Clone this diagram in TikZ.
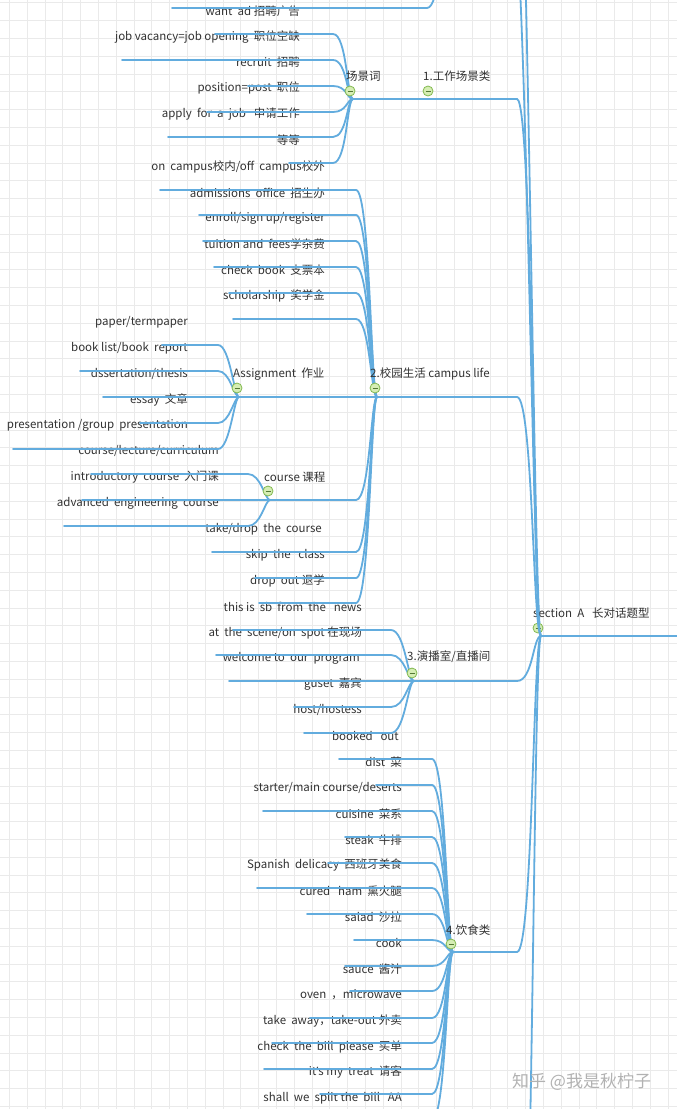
\documentclass[tikz,border=0pt]{standalone}
\usepackage{fontspec}
\setmainfont{Noto Sans CJK SC}
\newfontfamily\aposfont{Noto Sans}
\definecolor{branchblue}{RGB}{98,172,222}
\definecolor{txtgray}{RGB}{50,50,50}
\definecolor{foldfill}{RGB}{214,238,180}
\definecolor{folddraw}{RGB}{130,185,80}
\definecolor{gridgray}{RGB}{234,234,234}
\begin{document}
\begin{tikzpicture}[x=1pt, y=-1pt,
    branch/.style={draw=branchblue, line width=1.8pt, line cap=round},
    leaf/.style={anchor=east, inner sep=0pt, text=txtgray, font=\fontsize{11.5}{13}\selectfont},
    topic/.style={anchor=west, inner sep=0pt, text=txtgray, font=\fontsize{11.5}{13}\selectfont},
    fold/.style={circle, draw=folddraw, fill=foldfill, line width=0.8pt, inner sep=0pt, minimum size=10pt,
        path picture={\draw[folddraw!65!black, line width=0.8pt]
            ([xshift=-2.5pt]path picture bounding box.center) -- ([xshift=2.5pt]path picture bounding box.center);}},
    gridline/.style={draw=gridgray, line width=1pt}]
    \clip (0,0) rectangle (677,1109);
    \fill[white] (0,0) rectangle (677,1109);
    \foreach \i in {0,...,38} \draw[gridline] ({9.4+17.8*\i},0) -- ({9.4+17.8*\i},1109);
    \foreach \j in {0,...,62} \draw[gridline] (0,{2.8+17.8*\j}) -- (677,{2.8+17.8*\j});

    % hubs and bends
    \coordinate (root) at (541,636);
    \coordinate (hub0) at (446,-60);
    \coordinate (hub1) at (353,99);
    \coordinate (hub2) at (377,397);
    \coordinate (hubA) at (239,397);
    \coordinate (hubC) at (270,500);
    \coordinate (hub3) at (414,681);
    \coordinate (hub4) at (453,952);
    \coordinate (k0) at (427,0);
    \coordinate (k1) at (333,0);
    \coordinate (k2) at (356,0);
    \coordinate (kA) at (218,0);
    \coordinate (kC) at (248,0);
    \coordinate (k3) at (391,0);
    \coordinate (k4) at (432,0);
    \coordinate (kR) at (517,0);

    % root
    \coordinate (rootend) at (677,636);
    \draw[branch] (root) -- (rootend);
    \coordinate (cat0) at (510,-120);
    \coordinate (catm) at (505,-420);
    \coordinate (cat5) at (517,1400);
    \draw[branch] (cat0) .. controls +(16,0) and +(-8,0) .. (root);
    \draw[branch] (catm) .. controls +(22,0) and +(-8,0) .. (root);
    \draw[branch] (cat5) .. controls +(16,0) and +(-8,0) .. (root);
    \node[topic] (sec) at (533,613) {section~ A~~ 长对话题型};
    \node[fold] (f-root) at (538,628) {};

    % 1. work
    \draw[branch] (hub1) -- (hub1 -| kR) .. controls +(16,0) and +(-8,0) .. (root);
    \node[topic] (cat1) at (423,76) {1.工作场景类};
    \node[fold] (f-cat1) at (428,91) {};

    \node[leaf] (wantad) at (300,11) {want~ ad 招聘广告};
    \coordinate (wantad-l) at (172,8);
    \draw[branch] (wantad-l) -- (wantad-l -| k0) .. controls +(12,0) and +(-4,0) .. (hub0);

    \node[leaf] (vacancy) at (300,37) {job vacancy=job opening~ 职位空缺};
    \coordinate (vacancy-l) at (215,34);
    \draw[branch] (vacancy-l) -- (vacancy-l -| k1) .. controls +(14,0) and +(-6,0) .. (hub1);
    \node[leaf] (recruit) at (300,62) {recruit~ 招聘};
    \coordinate (recruit-l) at (122,60);
    \draw[branch] (recruit-l) -- (recruit-l -| k1) .. controls +(14,0) and +(-6,0) .. (hub1);
    \node[leaf] (position) at (300,88) {position=post~ 职位};
    \coordinate (position-l) at (248,86);
    \draw[branch] (position-l) -- (position-l -| k1) .. controls +(14,0) and +(-6,0) .. (hub1);
    \node[leaf] (apply) at (300,114) {apply~ for~ a~ job~~ 申请工作};
    \coordinate (apply-l) at (207,112);
    \draw[branch] (apply-l) -- (apply-l -| k1) .. controls +(14,0) and +(-6,0) .. (hub1);
    \node[leaf] (etc) at (300,140) {等等};
    \coordinate (etc-l) at (168,137);
    \draw[branch] (etc-l) -- (etc-l -| k1) .. controls +(14,0) and +(-6,0) .. (hub1);
    \node[leaf] (campus) at (325,167) {on~ campus校内/off~ campus校外};
    \coordinate (campus-l) at (289,163);
    \draw[branch] (campus-l) -- (campus-l -| k1) .. controls +(14,0) and +(-6,0) .. (hub1);
    \node[topic] (scene) at (346,76) {场景词};
    \node[fold] (f-scene) at (350,91) {};

    % 2. campus life
    \draw[branch] (hub2) -- (hub2 -| kR) .. controls +(16,0) and +(-8,0) .. (root);

    \node[leaf] (admit) at (325,193) {admissions~ office~ 招生办};
    \coordinate (admit-l) at (160,190);
    \draw[branch] (admit-l) -- (admit-l -| k2) .. controls +(14,0) and +(-6,0) .. (hub2);
    \node[leaf] (enroll) at (325,218) {enroll/sign up/register};
    \coordinate (enroll-l) at (199,215);
    \draw[branch] (enroll-l) -- (enroll-l -| k2) .. controls +(14,0) and +(-6,0) .. (hub2);
    \node[leaf] (tuition) at (325,244) {tuition and~ fees学杂费};
    \coordinate (tuition-l) at (203,241);
    \draw[branch] (tuition-l) -- (tuition-l -| k2) .. controls +(14,0) and +(-6,0) .. (hub2);
    \node[leaf] (cheque) at (325,270) {check~ book~ 支票本};
    \coordinate (cheque-l) at (214,267);
    \draw[branch] (cheque-l) -- (cheque-l -| k2) .. controls +(14,0) and +(-6,0) .. (hub2);
    \node[leaf] (scholar) at (325,296) {scholarship~ 奖学金};
    \coordinate (scholar-l) at (229,293);
    \draw[branch] (scholar-l) -- (scholar-l -| k2) .. controls +(14,0) and +(-6,0) .. (hub2);
    \coordinate (paper-l) at (233,319);
    \draw[branch] (paper-l) -- (paper-l -| k2) .. controls +(14,0) and +(-6,0) .. (hub2);

    \draw[branch] (hubA) -- (hub2);
    \node[leaf] (paper) at (188,322) {paper/termpaper};
    \node[leaf] (booklist) at (188,348) {book list/book~ report};
    \coordinate (booklist-l) at (162,345);
    \draw[branch] (booklist-l) -- (booklist-l -| kA) .. controls +(12,0) and +(-5,0) .. (hubA);
    \node[leaf] (thesis) at (188,374) {dssertation/thesis};
    \coordinate (thesis-l) at (80,371);
    \draw[branch] (thesis-l) -- (thesis-l -| kA) .. controls +(12,0) and +(-5,0) .. (hubA);
    \node[leaf] (essay) at (188,400) {essay~ 文章};
    \coordinate (essay-l) at (103,397);
    \draw[branch] (essay-l) -- (hubA);
    \node[leaf] (present) at (188,425) {presentation /group~ presentation};
    \coordinate (present-l) at (140,423);
    \draw[branch] (present-l) -- (present-l -| kA) .. controls +(12,0) and +(-5,0) .. (hubA);
    \node[leaf] (lecture) at (219,451) {course/lecture/curriculum};
    \coordinate (lecture-l) at (13,449);
    \draw[branch] (lecture-l) -- (lecture-l -| kA) .. controls +(12,0) and +(-5,0) .. (hubA);
    \node[topic] (assign) at (233,374) {Assignment~ 作业};
    \node[fold] (f-assign) at (237,388) {};

    \draw[branch] (hubC) -- (hubC -| k2) .. controls +(14,0) and +(-6,0) .. (hub2);
    \node[leaf] (intro) at (219,477) {introductory~ course~ 入门课};
    \coordinate (intro-l) at (91,474);
    \draw[branch] (intro-l) -- (intro-l -| kC) .. controls +(13,0) and +(-5,0) .. (hubC);
    \node[leaf] (advanced) at (219,503) {advanced~ engineering~ course};
    \coordinate (advanced-l) at (82,500);
    \draw[branch] (advanced-l) -- (hubC);
    \node[leaf] (takedrop) at (322,529) {take/drop~ the~ course};
    \coordinate (takedrop-l) at (64,526);
    \draw[branch] (takedrop-l) -- (takedrop-l -| kC) .. controls +(13,0) and +(-5,0) .. (hubC);
    \node[topic] (course) at (264,477) {course 课程};
    \node[fold] (f-course) at (268,491) {};

    \node[leaf] (skip) at (325,555) {skip~ the~~ class};
    \coordinate (skip-l) at (212,552);
    \draw[branch] (skip-l) -- (skip-l -| k2) .. controls +(14,0) and +(-6,0) .. (hub2);
    \node[leaf] (dropout) at (325,581) {drop~ out 退学};
    \coordinate (dropout-l) at (255,578);
    \draw[branch] (dropout-l) -- (dropout-l -| k2) .. controls +(14,0) and +(-6,0) .. (hub2);
    \node[leaf] (news) at (362,607) {this is~ sb~ from~ the~~ news};
    \coordinate (news-l) at (259,603);
    \draw[branch] (news-l) -- (news-l -| k2) .. controls +(14,0) and +(-6,0) .. (hub2);
    \node[topic] (cat2) at (370,374) {2.校园生活 campus life};
    \node[fold] (f-cat2) at (375,388) {};

    % 3. studio
    \draw[branch] (hub3) -- (hub3 -| kR) .. controls +(16,0) and +(-8,0) .. (root);
    \node[leaf] (spot) at (362,633) {at~ the~ scene/on~ spot 在现场};
    \coordinate (spot-l) at (233,630);
    \draw[branch] (spot-l) -- (spot-l -| k3) .. controls +(14,0) and +(-6,0) .. (hub3);
    \node[leaf] (welcome) at (360,658) {welcome to~ our~ program};
    \coordinate (welcome-l) at (216,655);
    \draw[branch] (welcome-l) -- (welcome-l -| k3) .. controls +(14,0) and +(-6,0) .. (hub3);
    \node[leaf] (guest) at (362,684) {guset~ 嘉宾};
    \coordinate (guest-l) at (229,681);
    \draw[branch] (guest-l) -- (hub3);
    \node[leaf] (host) at (362,710) {host/hostess};
    \coordinate (host-l) at (294,707);
    \draw[branch] (host-l) -- (host-l -| k3) .. controls +(14,0) and +(-6,0) .. (hub3);
    \node[leaf] (booked) at (399,736) {booked~~ out};
    \coordinate (booked-l) at (304,733);
    \draw[branch] (booked-l) -- (booked-l -| k3) .. controls +(14,0) and +(-6,0) .. (hub3);
    \node[topic] (cat3) at (407,657) {3.演播室/直播间};
    \node[fold] (f-cat3) at (412,673) {};

    % 4. food
    \draw[branch] (hub4) -- (hub4 -| kR) .. controls +(16,0) and +(-8,0) .. (root);
    \node[leaf] (dish) at (402,762) {dist~ 菜};
    \coordinate (dish-l) at (339,759);
    \draw[branch] (dish-l) -- (dish-l -| k4) .. controls +(14,0) and +(-6,0) .. (hub4);
    \node[leaf] (starter) at (402,788) {starter/main course/deserts};
    \coordinate (starter-l) at (376,785);
    \draw[branch] (starter-l) -- (starter-l -| k4) .. controls +(14,0) and +(-6,0) .. (hub4);
    \node[leaf] (cuisine) at (402,814) {cuisine~ 菜系};
    \coordinate (cuisine-l) at (263,811);
    \draw[branch] (cuisine-l) -- (cuisine-l -| k4) .. controls +(14,0) and +(-6,0) .. (hub4);
    \node[leaf] (steak) at (402,840) {steak~ 牛排};
    \coordinate (steak-l) at (345,837);
    \draw[branch] (steak-l) -- (steak-l -| k4) .. controls +(14,0) and +(-6,0) .. (hub4);
    \node[leaf] (spanish) at (402,865) {Spanish~ delicacy~ 西班牙美食};
    \coordinate (spanish-l) at (328,863);
    \draw[branch] (spanish-l) -- (spanish-l -| k4) .. controls +(14,0) and +(-6,0) .. (hub4);
    \node[leaf] (ham) at (402,891) {cured~~ ham~ 熏火腿};
    \coordinate (ham-l) at (257,888);
    \draw[branch] (ham-l) -- (ham-l -| k4) .. controls +(14,0) and +(-6,0) .. (hub4);
    \node[leaf] (salad) at (402,917) {salad~ 沙拉};
    \coordinate (salad-l) at (307,914);
    \draw[branch] (salad-l) -- (salad-l -| k4) .. controls +(14,0) and +(-6,0) .. (hub4);
    \node[leaf] (cook) at (402,943) {cook};
    \coordinate (cook-l) at (354,940);
    \draw[branch] (cook-l) -- (cook-l -| k4) .. controls +(14,0) and +(-6,0) .. (hub4);
    \node[leaf] (sauce) at (402,969) {sauce~ 酱汁};
    \coordinate (sauce-l) at (345,966);
    \draw[branch] (sauce-l) -- (sauce-l -| k4) .. controls +(14,0) and +(-6,0) .. (hub4);
    \node[leaf] (oven) at (402,995) {oven~ ，microwave};
    \coordinate (oven-l) at (350,991);
    \draw[branch] (oven-l) -- (oven-l -| k4) .. controls +(14,0) and +(-6,0) .. (hub4);
    \node[leaf] (takeout) at (402,1021) {take~ away，take-out 外卖};
    \coordinate (takeout-l) at (310,1018);
    \draw[branch] (takeout-l) -- (takeout-l -| k4) .. controls +(14,0) and +(-6,0) .. (hub4);
    \node[leaf] (bill) at (402,1047) {check~ the~ bill~ please~ 买单};
    \coordinate (bill-l) at (272,1043);
    \draw[branch] (bill-l) -- (bill-l -| k4) .. controls +(14,0) and +(-6,0) .. (hub4);
    \node[leaf] (treat) at (402,1072) {it{\aposfont ’}s my~ treat~ 请客};
    \coordinate (treat-l) at (264,1069);
    \draw[branch] (treat-l) -- (treat-l -| k4) .. controls +(14,0) and +(-6,0) .. (hub4);
    \node[leaf] (split) at (402,1098) {shall~ we~ split the~ bill~~ AA};
    \coordinate (split-l) at (320,1094);
    \draw[branch] (split-l) -- (split-l -| k4) .. controls +(14,0) and +(-6,0) .. (hub4);
    \coordinate (more-l) at (330,1120);
    \draw[branch] (more-l) -- (more-l -| k4) .. controls +(14,0) and +(-6,0) .. (hub4);
    \node[topic] (cat4) at (446,930) {4.饮食类};
    \node[fold] (f-cat4) at (451,944) {};

    \node[anchor=west, inner sep=0pt, text=gray!60, font=\fontsize{17}{19}\selectfont] (mark) at (512,1082) {知乎 @我是秋柠子};
\end{tikzpicture}
\end{document}
